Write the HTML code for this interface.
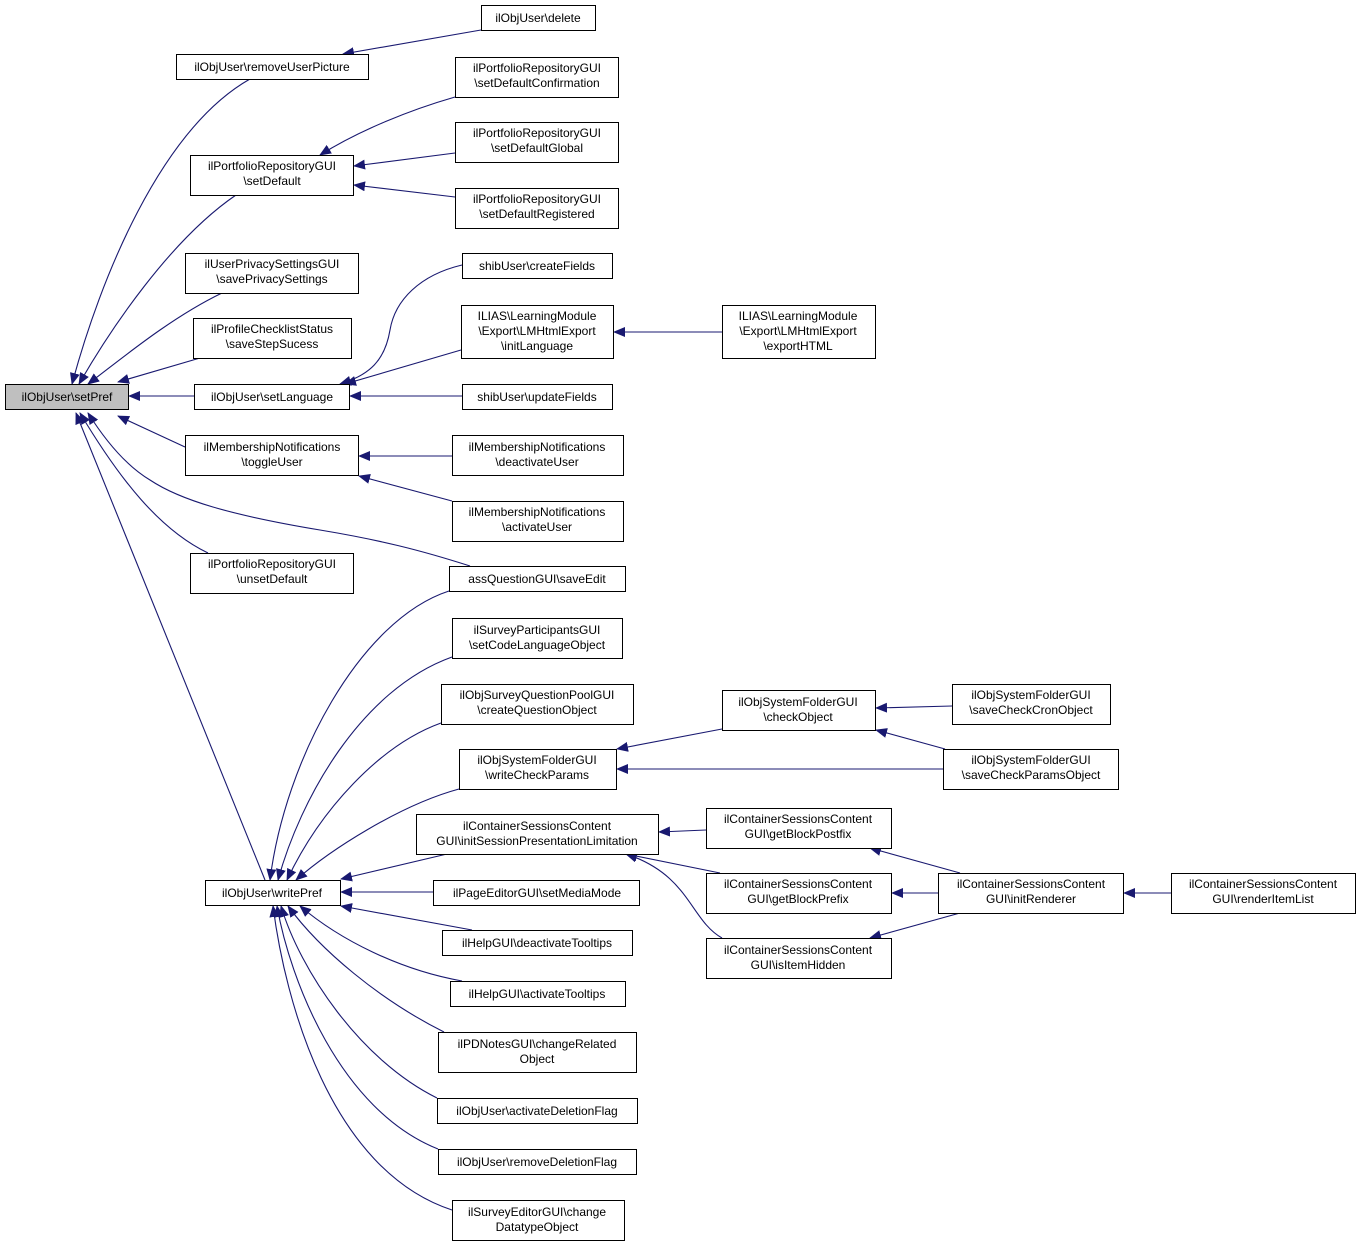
<!DOCTYPE html>
<html><head><meta charset="utf-8"><style>
html,body{margin:0;padding:0;background:#fff;}
svg text{font-family:"Liberation Sans",Helvetica,sans-serif;font-size:12px;fill:#000;}
</style></head><body>
<svg width="1360" height="1247" viewBox="0 0 1360 1247" xmlns="http://www.w3.org/2000/svg">
<defs><marker id="a" markerWidth="12" markerHeight="10" refX="11" refY="5" orient="auto" markerUnits="userSpaceOnUse"><path d="M0,0 L12,5 L0,10 Z" fill="#191970"/></marker></defs>
<g fill="none" stroke="#191970" stroke-width="1.1" marker-end="url(#a)">
<path d="M250,79 C160,130 100,280 72,384"/>
<path d="M236,195 C170,240 110,330 79,384"/>
<path d="M222,293 C170,318 120,360 88,384"/>
<path d="M200,358 L118,382"/>
<path d="M194,396 L129,396"/>
<path d="M185,447 L118,416"/>
<path d="M470,566 C420,550 380,540 320,530 C230,515 180,500 150,480 C125,465 105,440 88,413"/>
<path d="M208,553 C160,530 120,480 80,413"/>
<path d="M265,880 L76,413"/>
<path d="M481,30 L343,54"/>
<path d="M455,97 C410,110 360,130 320,155"/>
<path d="M455,153 L354,166"/>
<path d="M455,197 L354,185"/>
<path d="M462,265 C420,275 395,300 390,330 C385,360 370,375 340,384"/>
<path d="M461,350 L345,384"/>
<path d="M462,396 L350,396"/>
<path d="M722,332 L614,332"/>
<path d="M452,456 L359,456"/>
<path d="M452,501 L359,476"/>
<path d="M449,591 C360,620 285,760 270,880"/>
<path d="M452,657 C360,690 300,800 278,880"/>
<path d="M441,723 C380,745 320,810 287,880"/>
<path d="M459,789 C400,805 330,850 296,880"/>
<path d="M447,854 L341,879"/>
<path d="M433,892 L341,892"/>
<path d="M472,930 L341,906"/>
<path d="M462,981 C400,970 340,940 300,906"/>
<path d="M444,1032 C380,1000 320,950 288,906"/>
<path d="M437,1098 C360,1060 300,970 281,906"/>
<path d="M438,1149 C340,1110 290,980 277,906"/>
<path d="M452,1210 C330,1170 285,1000 273,906"/>
<path d="M722,729 L617,749"/>
<path d="M943,769 L617,769"/>
<path d="M952,706 L876,708"/>
<path d="M945,749 L876,730"/>
<path d="M706,830 L659,832"/>
<path d="M720,873 L626,854"/>
<path d="M722,938 C690,920 690,875 626,854"/>
<path d="M960,873 L870,848"/>
<path d="M938,893 L892,893"/>
<path d="M960,913 L870,938"/>
<path d="M1171,893 L1124,893"/>
</g>
<g stroke="#000" stroke-width="1" fill="#fff">
<rect x="5.5" y="384.5" width="123" height="25" fill="#bfbfbf"/>
<rect x="481.5" y="5.5" width="114" height="25"/>
<rect x="176.5" y="54.5" width="192" height="25"/>
<rect x="455.5" y="57.5" width="163" height="40"/>
<rect x="190.5" y="155.5" width="163" height="40"/>
<rect x="455.5" y="122.5" width="163" height="40"/>
<rect x="455.5" y="188.5" width="163" height="40"/>
<rect x="185.5" y="253.5" width="173" height="40"/>
<rect x="462.5" y="253.5" width="150" height="25"/>
<rect x="193.5" y="318.5" width="158" height="40"/>
<rect x="461.5" y="305.5" width="152" height="53"/>
<rect x="722.5" y="305.5" width="153" height="53"/>
<rect x="194.5" y="384.5" width="155" height="25"/>
<rect x="462.5" y="384.5" width="150" height="25"/>
<rect x="185.5" y="435.5" width="173" height="40"/>
<rect x="452.5" y="435.5" width="171" height="40"/>
<rect x="452.5" y="501.5" width="171" height="40"/>
<rect x="190.5" y="553.5" width="163" height="40"/>
<rect x="449.5" y="566.5" width="176" height="25"/>
<rect x="452.5" y="618.5" width="170" height="40"/>
<rect x="441.5" y="684.5" width="192" height="40"/>
<rect x="722.5" y="690.5" width="153" height="40"/>
<rect x="952.5" y="684.5" width="158" height="40"/>
<rect x="459.5" y="749.5" width="157" height="40"/>
<rect x="943.5" y="749.5" width="175" height="40"/>
<rect x="416.5" y="814.5" width="242" height="40"/>
<rect x="706.5" y="808.5" width="185" height="40"/>
<rect x="433.5" y="880.5" width="206" height="25"/>
<rect x="205.5" y="880.5" width="135" height="25"/>
<rect x="706.5" y="873.5" width="185" height="40"/>
<rect x="938.5" y="873.5" width="185" height="40"/>
<rect x="1171.5" y="873.5" width="184" height="40"/>
<rect x="442.5" y="930.5" width="190" height="25"/>
<rect x="706.5" y="938.5" width="185" height="40"/>
<rect x="450.5" y="981.5" width="175" height="25"/>
<rect x="438.5" y="1032.5" width="198" height="40"/>
<rect x="437.5" y="1098.5" width="200" height="25"/>
<rect x="438.5" y="1149.5" width="198" height="25"/>
<rect x="452.5" y="1200.5" width="172" height="40"/>
</g>
<g text-anchor="middle">
<text x="67" y="401">ilObjUser\setPref</text>
<text x="538" y="22">ilObjUser\delete</text>
<text x="272" y="71">ilObjUser\removeUserPicture</text>
<text x="537" y="72">ilPortfolioRepositoryGUI</text><text x="537" y="87">\setDefaultConfirmation</text>
<text x="272" y="170">ilPortfolioRepositoryGUI</text><text x="272" y="185">\setDefault</text>
<text x="537" y="137">ilPortfolioRepositoryGUI</text><text x="537" y="152">\setDefaultGlobal</text>
<text x="537" y="203">ilPortfolioRepositoryGUI</text><text x="537" y="218">\setDefaultRegistered</text>
<text x="272" y="268">ilUserPrivacySettingsGUI</text><text x="272" y="283">\savePrivacySettings</text>
<text x="537" y="270">shibUser\createFields</text>
<text x="272" y="333">ilProfileChecklistStatus</text><text x="272" y="348">\saveStepSucess</text>
<text x="537" y="320">ILIAS\LearningModule</text><text x="537" y="335">\Export\LMHtmlExport</text><text x="537" y="350">\initLanguage</text>
<text x="798" y="320">ILIAS\LearningModule</text><text x="798" y="335">\Export\LMHtmlExport</text><text x="798" y="350">\exportHTML</text>
<text x="272" y="401">ilObjUser\setLanguage</text>
<text x="537" y="401">shibUser\updateFields</text>
<text x="272" y="451">ilMembershipNotifications</text><text x="272" y="466">\toggleUser</text>
<text x="537" y="451">ilMembershipNotifications</text><text x="537" y="466">\deactivateUser</text>
<text x="537" y="516">ilMembershipNotifications</text><text x="537" y="531">\activateUser</text>
<text x="272" y="568">ilPortfolioRepositoryGUI</text><text x="272" y="583">\unsetDefault</text>
<text x="537" y="583">assQuestionGUI\saveEdit</text>
<text x="537" y="634">ilSurveyParticipantsGUI</text><text x="537" y="649">\setCodeLanguageObject</text>
<text x="537" y="699">ilObjSurveyQuestionPoolGUI</text><text x="537" y="714">\createQuestionObject</text>
<text x="798" y="706">ilObjSystemFolderGUI</text><text x="798" y="721">\checkObject</text>
<text x="1031" y="699">ilObjSystemFolderGUI</text><text x="1031" y="714">\saveCheckCronObject</text>
<text x="537" y="764">ilObjSystemFolderGUI</text><text x="537" y="779">\writeCheckParams</text>
<text x="1031" y="764">ilObjSystemFolderGUI</text><text x="1031" y="779">\saveCheckParamsObject</text>
<text x="537" y="830">ilContainerSessionsContent</text><text x="537" y="845">GUI\initSessionPresentationLimitation</text>
<text x="798" y="823">ilContainerSessionsContent</text><text x="798" y="838">GUI\getBlockPostfix</text>
<text x="537" y="897">ilPageEditorGUI\setMediaMode</text>
<text x="272" y="897">ilObjUser\writePref</text>
<text x="798" y="888">ilContainerSessionsContent</text><text x="798" y="903">GUI\getBlockPrefix</text>
<text x="1031" y="888">ilContainerSessionsContent</text><text x="1031" y="903">GUI\initRenderer</text>
<text x="1263" y="888">ilContainerSessionsContent</text><text x="1263" y="903">GUI\renderItemList</text>
<text x="537" y="947">ilHelpGUI\deactivateTooltips</text>
<text x="798" y="954">ilContainerSessionsContent</text><text x="798" y="969">GUI\isItemHidden</text>
<text x="537" y="998">ilHelpGUI\activateTooltips</text>
<text x="537" y="1048">ilPDNotesGUI\changeRelated</text><text x="537" y="1063">Object</text>
<text x="537" y="1115">ilObjUser\activateDeletionFlag</text>
<text x="537" y="1166">ilObjUser\removeDeletionFlag</text>
<text x="537" y="1216">ilSurveyEditorGUI\change</text><text x="537" y="1231">DatatypeObject</text>
</g>
</svg>
</body></html>
